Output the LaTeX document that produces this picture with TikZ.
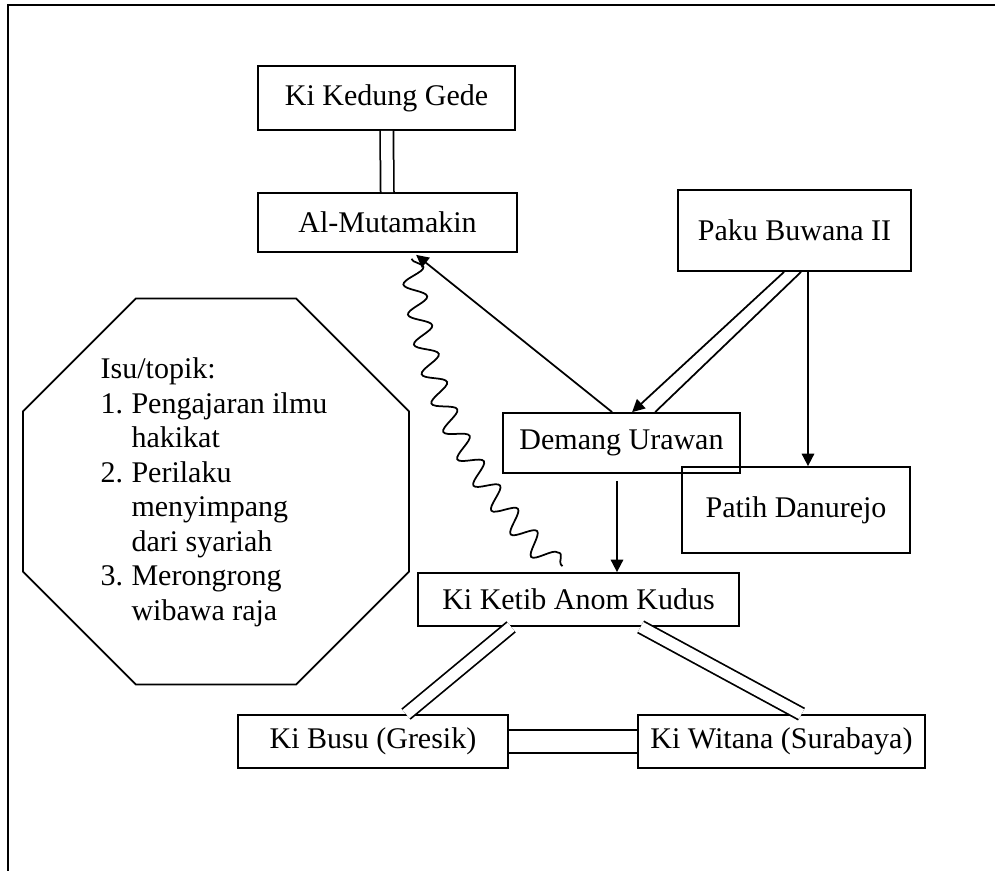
\documentclass[tikz,border=0pt]{standalone}
\usepackage{fontspec}
\setmainfont{Liberation Serif}
\usetikzlibrary{arrows.meta, calc, shapes.geometric, decorations.pathmorphing}
\tikzset{
    x=0.4pt, y=-0.4pt, % one unit is one pixel, counted from the top left corner
    box/.style={draw, line width=0.7pt, inner sep=0pt, font=\fontsize{12}{13.8}\selectfont}, % the text boxes
    dbl/.style={double, double distance=4.4pt}, % two thin parallel lines
    wavy/.style={decorate, decoration={snake, segment length=12pt, amplitude=4.4pt}},
    >={Triangle[length=5pt, width=5pt]}, % filled arrow heads
}

\begin{document}
\begin{tikzpicture}[line width=0.7pt]
    \useasboundingbox (0,0) rectangle (995,871);
    \draw[line width=0.9pt] (995,5) -- (8,5) -- (8,871);

    \node[box, minimum width=102.8pt, minimum height=25.6pt] (kedung) at (386.5,98) {Ki Kedung Gede};
    \node[box, minimum width=103.6pt, minimum height=23.6pt] (mutamakin) at (387.5,222.5) {Al-Mutamakin};
    \node[box, minimum width=93.2pt, minimum height=32.4pt] (paku) at (794.5,230.5) {Paku Buwana II};
    \node[box, minimum width=94.8pt, minimum height=24pt] (demang) at (621.5,443) {Demang Urawan};
    \node[box, minimum width=91.2pt, minimum height=34.4pt] (patih) at (796,510) {Patih Danurejo};
    \node[box, minimum width=128.4pt, minimum height=21.2pt] (ketib) at (578.5,599.5) {Ki Ketib Anom Kudus};
    \node[box, minimum width=108pt, minimum height=21.2pt] (busu) at (373,741.5) {Ki Busu (Gresik)};
    \node[box, minimum width=114.8pt, minimum height=21.2pt] (witana) at (781.5,741.5) {Ki Witana (Surabaya)};

    \node[draw, regular polygon, regular polygon sides=8, minimum size=167.2pt, inner sep=0pt] (isu) at (216,491.5) {};
    \node[font=\fontsize{12}{13.8}\selectfont, inner sep=0pt] (isutext) at ($(isu.center)+(-2,1)$) {%
        \begin{tabular}{@{}l@{\hspace{0.28em}}l@{}}
            \multicolumn{2}{@{}l@{}}{Isu/topik:}\\
            1. & Pengajaran ilmu\\
               & hakikat\\
            2. & Perilaku\\
               & menyimpang\\
               & dari syariah\\
            3. & Merongrong\\
               & wibawa raja
        \end{tabular}};

    \draw
    (kedung) edge[dbl, double distance=4.6pt] (mutamakin)
    (busu) edge[dbl, double distance=8.4pt] (witana)
    ($(ketib.south west)+(94,0)$) edge[dbl] ($(busu.north)+(33,0)$)
    ($(ketib.south west)+(223.5,0)$) edge[dbl] ($(witana.north)+(20,0)$)

    ($(paku.south west)+(107,0)$) edge[->] ($(demang.north west)+(130,0)$)
    ($(paku.south west)+(124,0)$) edge ($(demang.north west)+(153,0)$)
    ($(paku.south)+(13.5,0)$) edge[->] ($(patih.north)+(12,0)$)
    ($(demang.north west)+(110,0)$) edge[->] ($(mutamakin.south west)+(159,2)$)
    ($(demang.south)+(-4.5,7)$) edge[->] ($(ketib.north)+(38.5,0)$)

    ($(mutamakin.south)+(24,6)$) edge[wavy, bend right=20] ($(ketib.north)+(-16,-6)$);
\end{tikzpicture}
\end{document}
